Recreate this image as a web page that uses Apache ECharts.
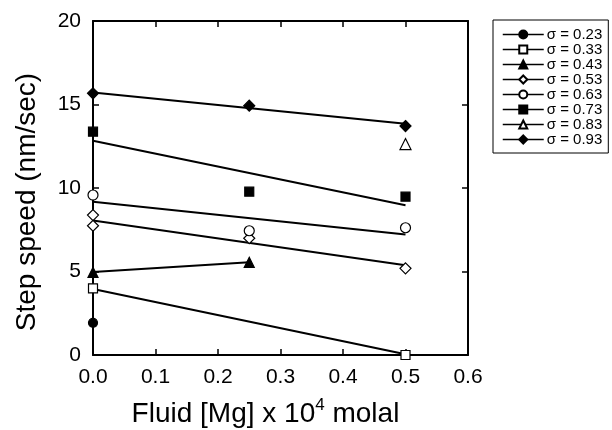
<!DOCTYPE html>
<html><head><meta charset="utf-8">
<script src="https://cdn.jsdelivr.net/npm/echarts@6/dist/echarts.min.js"></script>
<style>html,body{margin:0;padding:0;background:#fff}#c{width:612px;height:430px}</style>
</head><body><div id="c"></div>
<script>
// ---- data ----
const sigmaNames = ['σ = 0.23','σ = 0.33','σ = 0.43','σ = 0.53','σ = 0.63','σ = 0.73','σ = 0.83','σ = 0.93'];
const s023 = [[0, 1.93]];
const s033 = [[0, 3.99], [0.5, 0.0]];
const s043 = [[0, 4.95], [0.25, 5.55]];
const s053 = [[0, 8.38], [0, 7.74], [0.25, 6.99], [0.5, 5.19]];
const s063 = [[0, 9.58], [0.25, 7.44], [0.5, 7.62]];
const s073 = [[0, 13.37], [0.25, 9.78], [0.5, 9.48]];
const s083 = [[0.5, 12.63]];
const s093 = [[0, 15.67], [0.25, 14.93], [0.5, 13.71]];
// fitted lines (endpoints)
const fit033 = [[0, 3.95], [0.5, 0.05]];
const fit043 = [[0, 4.97], [0.25, 5.55]];
const fit053 = [[0, 8.05], [0.5, 5.37]];
const fit063 = [[0, 9.18], [0.5, 7.22]];
const fit073 = [[0, 12.83], [0.5, 8.97]];
const fit093 = [[0, 15.72], [0.5, 13.85]];
const xTickValues = [0, 0.1, 0.2, 0.3, 0.4, 0.5, 0.6];
const yTickValues = [0, 5, 10, 15, 20];

const pointSets = [s023, s033, s043, s053, s063, s073, s083, s093];
const fits = [fit033, fit043, fit053, fit063, fit073, fit093];
const symbols = ['circle','rect','triangle','diamond','circle','rect','triangle','diamond'];
const filled = [true,false,true,false,false,true,false,true];
const sizes = [9,9,10,11,10,9,11,11];

const font = 'Liberation Sans, Arial, Helvetica, sans-serif';
const series = [];
fits.forEach(f => series.push({
  type:'line', data:f, symbol:'none', silent:true, z:2,
  lineStyle:{color:'#000', width:2}
}));
pointSets.forEach((d,i) => series.push({
  name: sigmaNames[i], type:'line', data:d, symbol:symbols[i], symbolSize:sizes[i], z:5,
  lineStyle:{opacity:0, width:0},
  itemStyle:{color: filled[i] ? '#000' : '#fff', borderColor:'#000', borderWidth:1.2, opacity:1},
  emphasis:{disabled:true}
}));

const chart = echarts.init(document.getElementById('c'), null, {renderer:'canvas'});
chart.setOption({
  animation:false,
  backgroundColor:'#fff',
  grid:{left:93, right:144, top:21, bottom:75, show:false, containLabel:false, outerBoundsMode:'none'},
  legend:{
    data: sigmaNames, orient:'vertical', left:493, top:20, right:3,
    backgroundColor:'#fff', borderColor:'#000', borderWidth:1,
    padding:[7,6,6,9], itemGap:0, itemWidth:41, itemHeight:10,
    lineStyle:{color:'#000', width:1.5, opacity:1},
    textStyle:{fontFamily:font, fontSize:15, lineHeight:14, color:'#000', padding:[0,0,0,-2]},
    selectedMode:false
  },
  xAxis:[{
    type:'value', min:0, max:0.6, interval:0.1,
    axisLine:{show:true, onZero:false, lineStyle:{color:'#000', width:2}},
    axisTick:{show:true, inside:true, length:6, lineStyle:{color:'#000', width:1.5}},
    axisLabel:{fontFamily:font, fontSize:21, color:'#000', margin:12, formatter: v => v.toFixed(1)},
    splitLine:{show:false},
    name:'Fluid [Mg] x 10{sup|4} molal', nameLocation:'middle', nameGap:42,
    nameTextStyle:{fontFamily:font, fontSize:28, color:'#000', padding:[0,30,0,0],
      rich:{sup:{fontFamily:font, fontSize:17, color:'#000', verticalAlign:'top', padding:[0,0,17,0]}}}
  },{
    type:'value', position:'top', min:0, max:0.6, interval:0.1,
    axisLine:{show:true, onZero:false, lineStyle:{color:'#000', width:2}},
    axisTick:{show:true, inside:true, length:6, lineStyle:{color:'#000', width:1.5}},
    axisLabel:{show:false}, splitLine:{show:false}
  }],
  yAxis:[{
    type:'value', min:0, max:20, interval:5,
    axisLine:{show:true, onZero:false, lineStyle:{color:'#000', width:2}},
    axisTick:{show:true, inside:true, length:6, lineStyle:{color:'#000', width:1.5}},
    axisLabel:{fontFamily:font, fontSize:21, color:'#000', margin:12},
    splitLine:{show:false},
    name:'Step speed (nm/sec)', nameLocation:'middle', nameGap:52,
    nameTextStyle:{fontFamily:font, fontSize:28, color:'#000', padding:[0,28,0,0]}
  },{
    type:'value', position:'right', min:0, max:20, interval:5,
    axisLine:{show:true, onZero:false, lineStyle:{color:'#000', width:2}},
    axisTick:{show:true, inside:true, length:6, lineStyle:{color:'#000', width:1.5}},
    axisLabel:{show:false}, splitLine:{show:false}
  }],
  series: series
});
</script>
</body></html>
